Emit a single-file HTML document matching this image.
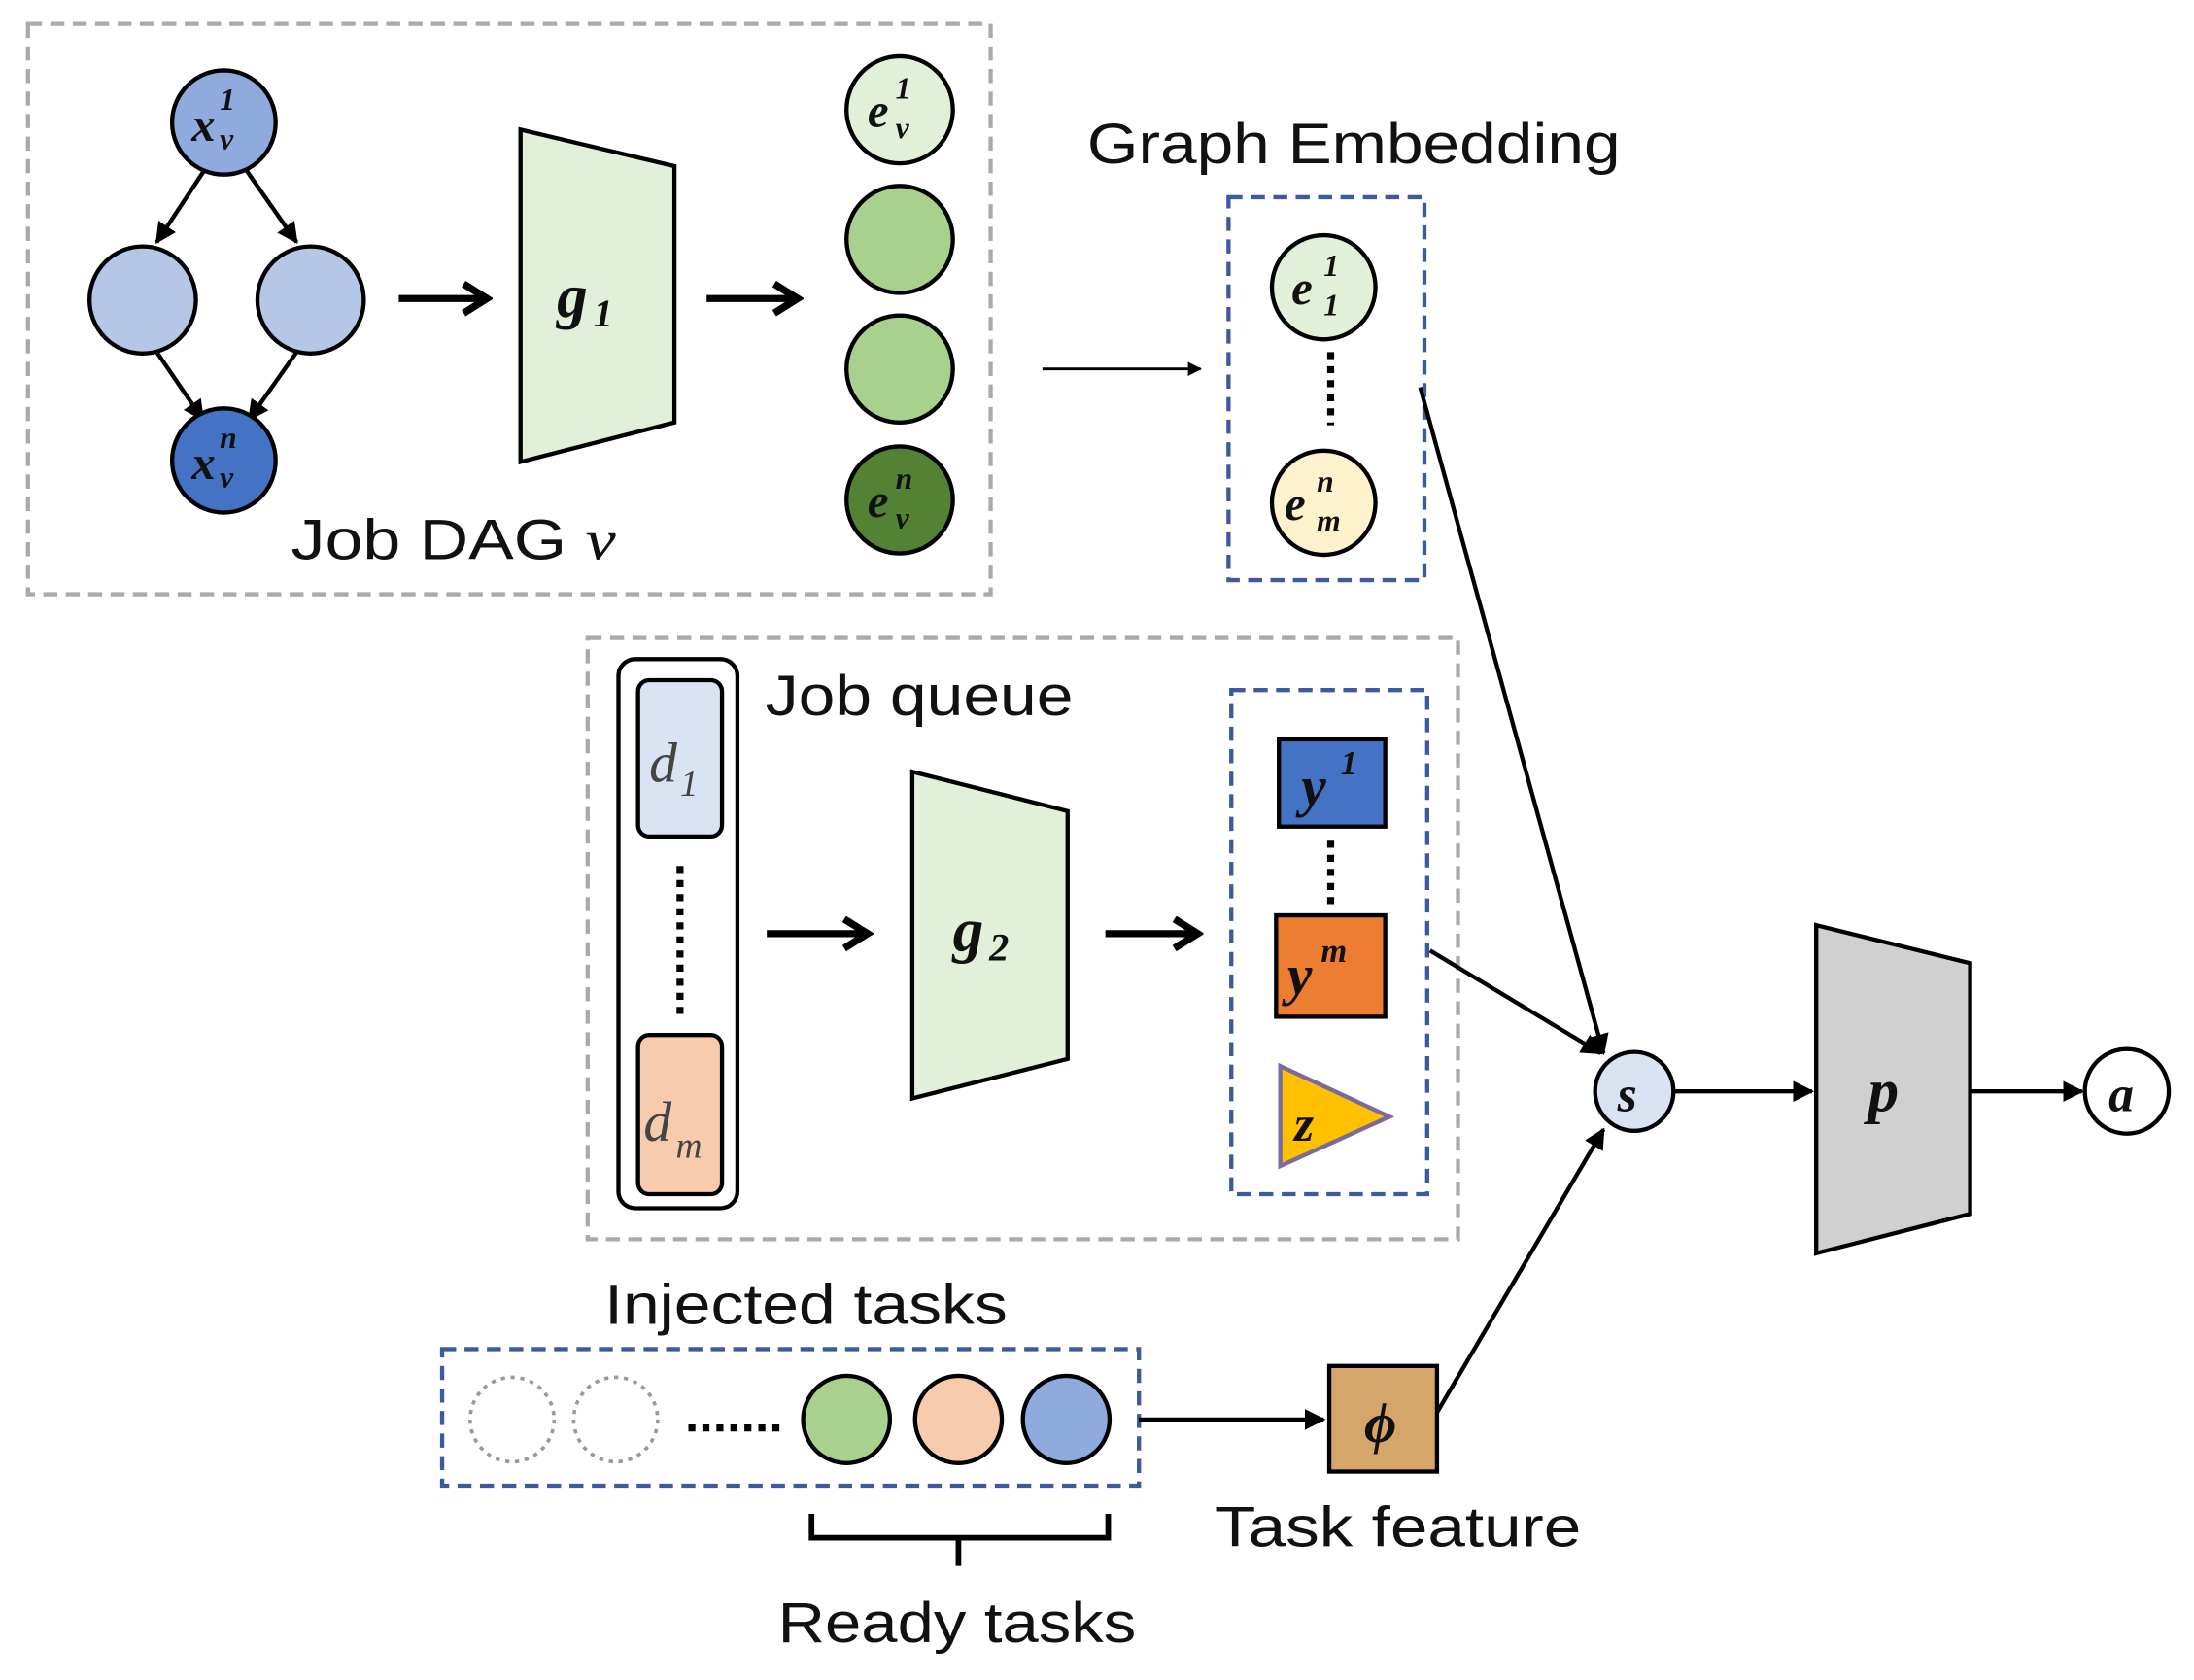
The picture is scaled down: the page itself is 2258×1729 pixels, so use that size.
<!DOCTYPE html>
<html><head><style>html,body{margin:0;padding:0;background:#fff}svg{display:block}</style></head>
<body>
<svg width="2258" height="1729" viewBox="0 0 1568 1193" preserveAspectRatio="none" xmlns="http://www.w3.org/2000/svg" font-family="Liberation Sans, sans-serif">
<defs>
<marker id="ah" viewBox="0 0 10 10" refX="9" refY="5" markerWidth="5" markerHeight="5" orient="auto"><path d="M0,0 L10,5 L0,10 z" fill="#000"/></marker>
<marker id="oa" viewBox="0 0 12 12" refX="10" refY="6" markerWidth="5" markerHeight="5" orient="auto"><path d="M2,1 L10,6 L2,11" fill="none" stroke="#000" stroke-width="2.5"/></marker>
</defs>
<g fill="none" stroke="#aaa" stroke-width="3" stroke-dasharray="10,6">
<rect x="20" y="17" width="688" height="405"/>
<rect x="420" y="453" width="622" height="427"/>
</g>
<g fill="none" stroke="#3d5a9e" stroke-width="3" stroke-dasharray="10,6">
<rect x="878" y="140" width="140" height="272"/>
<rect x="880" y="490" width="140" height="358"/>
<rect x="316" y="958" width="498" height="97"/>
</g>
<g stroke="#000" stroke-width="3" fill="none">
<line x1="148" y1="118" x2="112" y2="172" marker-end="url(#ah)"/>
<line x1="174" y1="118" x2="212" y2="172" marker-end="url(#ah)"/>
<line x1="112" y1="250" x2="145" y2="298" marker-end="url(#ah)"/>
<line x1="212" y1="250" x2="178" y2="298" marker-end="url(#ah)"/>
<line x1="285" y1="212" x2="348" y2="212" stroke-width="5" marker-end="url(#oa)"/>
<line x1="505" y1="212" x2="570" y2="212" stroke-width="5" marker-end="url(#oa)"/>
<line x1="548" y1="663" x2="620" y2="663" stroke-width="5" marker-end="url(#oa)"/>
<line x1="790" y1="663" x2="856" y2="663" stroke-width="5" marker-end="url(#oa)"/>
<line x1="745" y1="262" x2="858" y2="262" stroke-width="2" marker-end="url(#ah)"/>
<line x1="1015" y1="275" x2="1146" y2="748" marker-end="url(#ah)"/>
<line x1="1022" y1="675" x2="1144" y2="748" marker-end="url(#ah)"/>
<line x1="1027" y1="1003" x2="1146" y2="802" marker-end="url(#ah)"/>
<line x1="814" y1="1008" x2="946" y2="1008" marker-end="url(#ah)"/>
<line x1="1197" y1="775" x2="1295" y2="775" marker-end="url(#ah)"/>
<line x1="1408" y1="775" x2="1488" y2="775" marker-end="url(#ah)"/>
</g>
<g stroke="#000" stroke-width="3">
<circle cx="160" cy="87" r="37" fill="#8faadc"/>
<circle cx="102" cy="213" r="38" fill="#b4c7e7"/>
<circle cx="222" cy="213" r="38" fill="#b4c7e7"/>
<circle cx="160" cy="327" r="37" fill="#4472c4"/>
<polygon points="372,92 482,118 482,300 372,328" fill="#e2f0d9"/>
<circle cx="643" cy="78" r="38" fill="#e2f0d9"/>
<circle cx="643" cy="170" r="38" fill="#a9d18e"/>
<circle cx="643" cy="262" r="38" fill="#a9d18e"/>
<circle cx="643" cy="355" r="38" fill="#548235"/>
<circle cx="946" cy="204" r="37" fill="#e2f0d9"/>
<circle cx="946" cy="357" r="37" fill="#fff2cc"/>
<rect x="442" y="468" width="85" height="390" rx="12" fill="#fff"/>
<rect x="456" y="483" width="60" height="111" rx="8" fill="#dae3f3"/>
<rect x="456" y="735" width="60" height="113" rx="8" fill="#f8cbad"/>
<polygon points="652,548 763,576 763,752 652,780" fill="#e2f0d9"/>
<rect x="914" y="525" width="76" height="62" fill="#4472c4"/>
<rect x="912" y="650" width="78" height="72" fill="#ed7d31"/>
<polygon points="915,757 915,828 993,793" fill="#ffc000" stroke="#7a6aa0"/>
<circle cx="1168" cy="775" r="28" fill="#dae3f3"/>
<polygon points="1298,657 1408,684 1408,862 1298,890" fill="#d0d0d0"/>
<circle cx="1520" cy="775" r="30" fill="#fff"/>
<circle cx="605" cy="1008" r="31" fill="#a9d18e"/>
<circle cx="685" cy="1008" r="31" fill="#f8cbad"/>
<circle cx="762" cy="1008" r="31" fill="#8faadc"/>
<rect x="950" y="970" width="77" height="75" fill="#d6a56a"/>
</g>
<g fill="none" stroke="#999" stroke-width="2.5" stroke-dasharray="3,4">
<circle cx="366" cy="1008" r="30"/><circle cx="440" cy="1008" r="30"/>
</g>
<g stroke="#000" stroke-width="5" stroke-dasharray="5,5">
<line x1="951" y1="250" x2="951" y2="302"/>
<line x1="486" y1="615" x2="486" y2="720"/>
<line x1="951" y1="597" x2="951" y2="642"/>
<line x1="492" y1="1014" x2="562" y2="1014"/>
</g>
<path d="M580,1075 L580,1092 L685,1092 L685,1112 M685,1092 L792,1092 L792,1075" fill="none" stroke="#000" stroke-width="4"/>
<g font-family="Liberation Serif, serif" font-style="italic" font-weight="bold" fill="#111">
<text x="137" y="100" font-size="34">x</text><text x="157" y="78" font-size="22">1</text><text x="157" y="106" font-size="22">v</text>
<text x="137" y="340" font-size="34">x</text><text x="157" y="318" font-size="22">n</text><text x="157" y="346" font-size="22">v</text>
<text x="398" y="225" font-size="44">g</text><text x="424" y="232" font-size="28">1</text>
<text x="620" y="90" font-size="34">e</text><text x="640" y="70" font-size="22">1</text><text x="640" y="98" font-size="22">v</text>
<text x="620" y="367" font-size="34">e</text><text x="640" y="347" font-size="22">n</text><text x="640" y="375" font-size="22">v</text>
<text x="923" y="216" font-size="34">e</text><text x="946" y="196" font-size="22">1</text><text x="946" y="224" font-size="22">1</text>
<text x="918" y="369" font-size="34">e</text><text x="941" y="349" font-size="22">n</text><text x="941" y="377" font-size="22">m</text>
<text x="681" y="675" font-size="44">g</text><text x="707" y="682" font-size="28">2</text>
<text x="930" y="572" font-size="40">y</text><text x="958" y="550" font-size="24">1</text>
<text x="920" y="706" font-size="40">y</text><text x="944" y="683" font-size="24">m</text>
<text x="925" y="810" font-size="36">z</text>
<text x="1156" y="789" font-size="36">s</text>
<text x="1335" y="789" font-size="44">p</text>
<text x="1507" y="789" font-size="36">a</text>
<text x="975" y="1024" font-size="40">ϕ</text>
</g>
<g font-family="Liberation Serif, serif" font-style="italic" fill="#444">
<text x="464" y="555" font-size="40">d</text><text x="486" y="565" font-size="26">1</text>
<text x="460" y="810" font-size="40">d</text><text x="483" y="822" font-size="26">m</text>
</g>
<g font-size="40" fill="#111">
<text x="208" y="397" textLength="232" lengthAdjust="spacingAndGlyphs">Job DAG <tspan font-family="Liberation Serif, serif" font-style="italic">v</tspan></text>
<text x="777" y="116" textLength="381" lengthAdjust="spacingAndGlyphs">Graph Embedding</text>
<text x="547" y="508" textLength="220" lengthAdjust="spacingAndGlyphs">Job queue</text>
<text x="432" y="940" textLength="288" lengthAdjust="spacingAndGlyphs">Injected tasks</text>
<text x="868" y="1098" textLength="262" lengthAdjust="spacingAndGlyphs">Task feature</text>
<text x="556" y="1166" textLength="256" lengthAdjust="spacingAndGlyphs">Ready tasks</text>
</g>
</svg>
</body></html>
